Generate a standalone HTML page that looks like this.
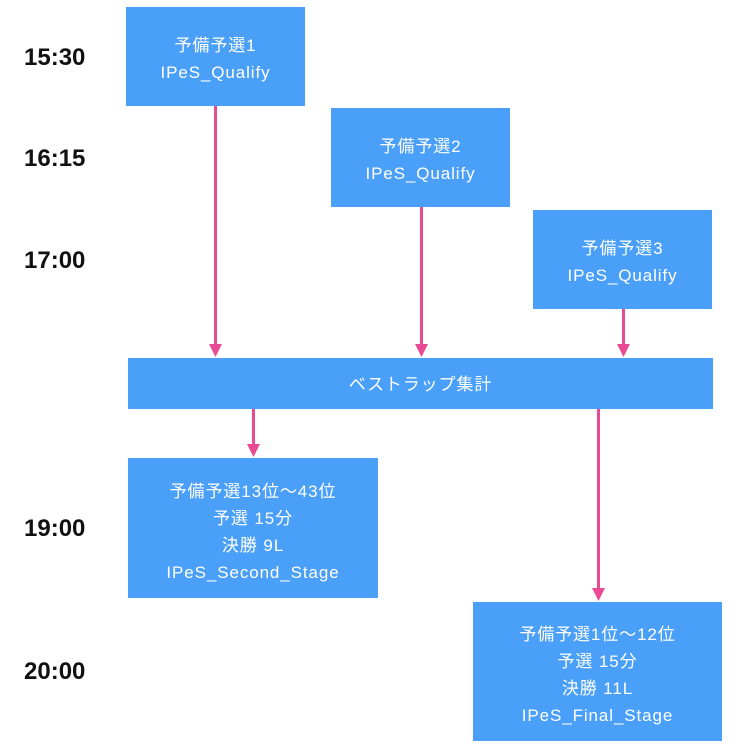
<!DOCTYPE html>
<html><head><meta charset="utf-8"><style>
body{margin:0;width:750px;height:750px;background:#fff;position:relative;overflow:hidden;font-family:"Liberation Sans","Noto Sans CJK JP",sans-serif}
.b{position:absolute;background:#4a9ff8;color:#fff;display:flex;flex-direction:column;justify-content:center;align-items:center;font-size:17px;letter-spacing:0.9px;line-height:27px;text-align:center;box-sizing:border-box;padding-top:4px}
.t{position:absolute;left:24px;font-size:24px;font-weight:bold;color:#111;line-height:24px}
</style></head><body>
<div class="t" style="top:46px">15:30</div>
<div class="t" style="top:147px">16:15</div>
<div class="t" style="top:249px">17:00</div>
<div class="t" style="top:517px">19:00</div>
<div class="t" style="top:660px">20:00</div>
<div class="b" style="left:126px;top:7px;width:179px;height:99px"><div>予備予選1</div><div>IPeS_Qualify</div></div>
<div class="b" style="left:331px;top:108px;width:179px;height:99px"><div>予備予選2</div><div>IPeS_Qualify</div></div>
<div class="b" style="left:533px;top:210px;width:179px;height:99px"><div>予備予選3</div><div>IPeS_Qualify</div></div>
<div class="b" style="left:128px;top:358px;width:585px;height:51px;padding-top:2px">ベストラップ集計</div>
<div class="b" style="left:128px;top:458px;width:250px;height:140px;padding-top:8px"><div>予備予選13位〜43位</div><div>予選 15分</div><div>決勝 9L</div><div>IPeS_Second_Stage</div></div>
<div class="b" style="left:473px;top:602px;width:249px;height:139px;padding-top:6px"><div>予備予選1位〜12位</div><div>予選 15分</div><div>決勝 11L</div><div>IPeS_Final_Stage</div></div>
<svg width="750" height="750" style="position:absolute;left:0;top:0">
<g stroke="#e84a93" stroke-width="3">
<line x1="215.5" y1="106" x2="215.5" y2="346"/>
<line x1="421.5" y1="207" x2="421.5" y2="346"/>
<line x1="623.5" y1="309" x2="623.5" y2="346"/>
<line x1="253.5" y1="409" x2="253.5" y2="446"/>
<line x1="598.5" y1="409" x2="598.5" y2="590"/>
</g>
<g fill="#e84a93">
<polygon points="209,344 222,344 215.5,357"/>
<polygon points="415,344 428,344 421.5,357"/>
<polygon points="617,344 630,344 623.5,357"/>
<polygon points="247,444 260,444 253.5,457"/>
<polygon points="592,588 605,588 598.5,601"/>
</g>
</svg>
</body></html>
